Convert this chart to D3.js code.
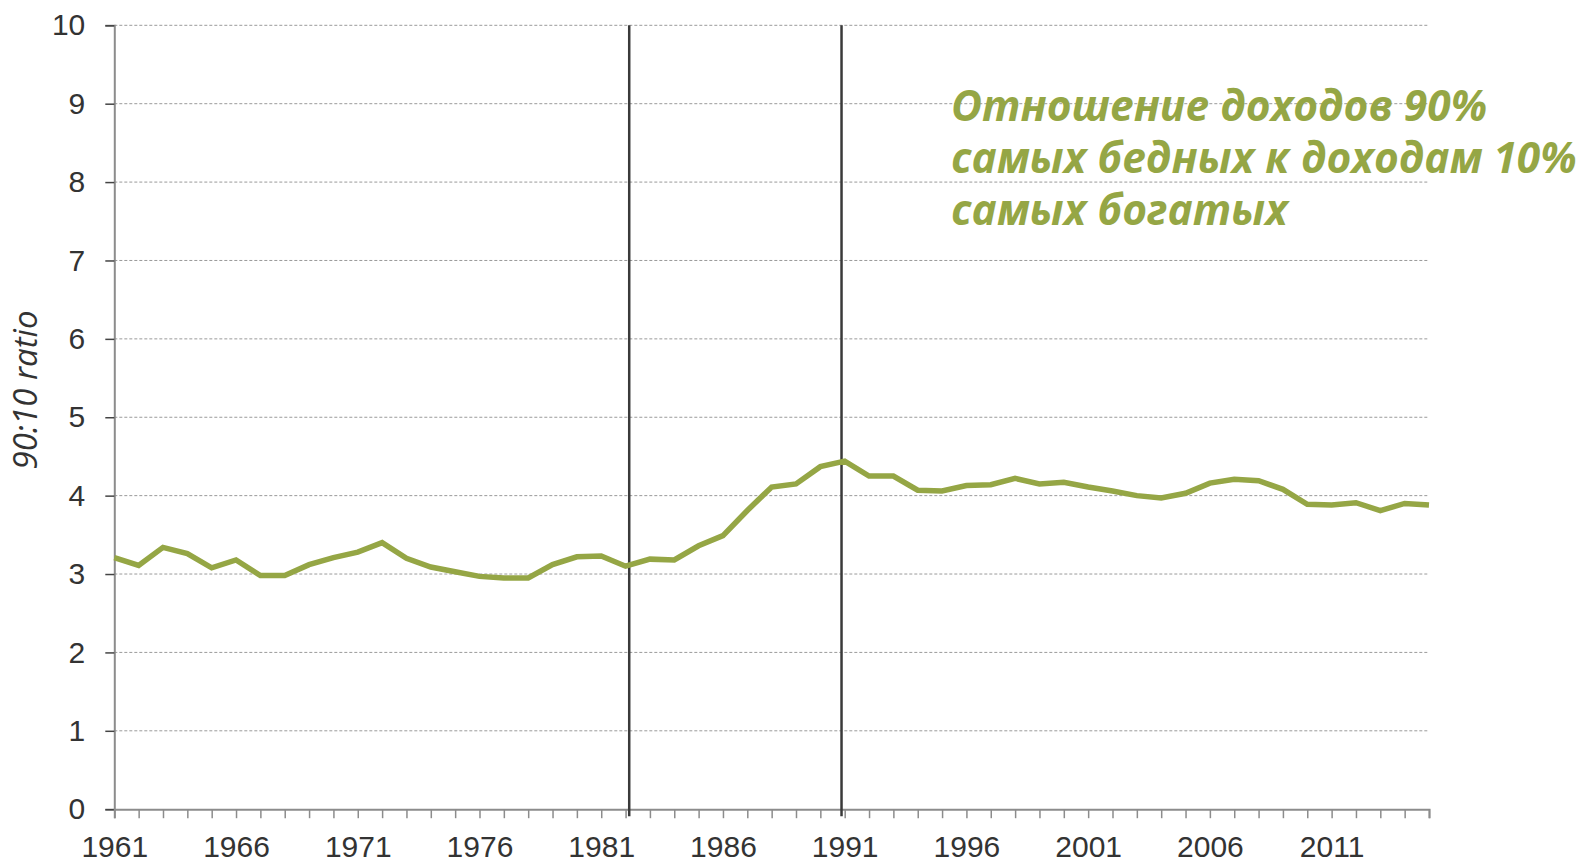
<!DOCTYPE html>
<html>
<head>
<meta charset="utf-8">
<script src="https://cdn.jsdelivr.net/npm/d3@7"></script>
<style>
  body { margin: 0; background: #fff; }
  svg { display: block; }
</style>
</head>
<body>
<svg id="chart" width="1586" height="862"></svg>
<script>
// years on the x axis
var years = d3.range(1961, 2016);
// 90:10 ratio, one value per year 1961..2015
var ratio = [3.21, 3.11, 3.34, 3.26, 3.08, 3.18, 2.98, 2.98, 3.12, 3.21,
             3.28, 3.40, 3.20, 3.09, 3.03, 2.97, 2.95, 2.95, 3.12, 3.22,
             3.23, 3.10, 3.19, 3.18, 3.36, 3.49, 3.81, 4.11, 4.15, 4.37,
             4.44, 4.25, 4.25, 4.07, 4.06, 4.13, 4.14, 4.22, 4.15, 4.17,
             4.11, 4.06, 4.00, 3.97, 4.03, 4.16, 4.21, 4.19, 4.08, 3.89,
             3.88, 3.91, 3.81, 3.90, 3.88];
var yTicks = [0, 1, 2, 3, 4, 5, 6, 7, 8, 9, 10];
var labelYears = [1961, 1966, 1971, 1976, 1981, 1986, 1991, 1996, 2001, 2006, 2011];
// the two vertical marker lines
var markerYears = [1982.15, 1990.87];
var noteLines = ["Отношение доходов 90%", "самых бедных к доходам 10%", "самых богатых"];
var axisTitle = "90:10 ratio";

var green = "#95a645";
var svg = d3.select("#chart");

var x = d3.scaleLinear().domain([1961, 2015]).range([114.3, 1429]);
var y = d3.scaleLinear().domain([0, 10]).range([809.2, 25.3]);

// grid
svg.append("g")
  .selectAll("line")
  .data(yTicks.filter(function(d) { return d > 0; }))
  .enter()
  .append("line")
  .attr("x1", x(1961))
  .attr("x2", x(2015))
  .attr("y1", function(d) { return y(d); })
  .attr("y2", function(d) { return y(d); })
  .attr("stroke", "#9a9a9a")
  .attr("stroke-width", 1)
  .attr("stroke-dasharray", "3,2");

// y axis
var yAxis = svg.append("g")
  .attr("transform", "translate(" + x(1961) + ",0)")
  .call(d3.axisLeft(y).tickValues(yTicks).tickSize(9).tickPadding(20).tickFormat(d3.format("d")));
yAxis.select(".domain").attr("stroke", "#8c8c8c").attr("stroke-width", 2);
yAxis.selectAll(".tick line").attr("stroke", "#444").attr("stroke-width", 1.5);
yAxis.selectAll("text")
  .attr("font-family", "'Liberation Sans', Arial, sans-serif")
  .attr("font-size", 30)
  .attr("fill", "#333");

// x axis
var xAxis = svg.append("g")
  .attr("transform", "translate(0," + y(0) + ")")
  .call(d3.axisBottom(x).tickValues(years).tickSize(9).tickPadding(18)
    .tickFormat(function(d) { return labelYears.indexOf(d) >= 0 ? d : ""; }));
xAxis.select(".domain").attr("stroke", "#8c8c8c").attr("stroke-width", 2);
xAxis.selectAll(".tick line").attr("stroke", "#8c8c8c").attr("stroke-width", 1.5);
xAxis.selectAll("text")
  .attr("font-family", "'Liberation Sans', Arial, sans-serif")
  .attr("font-size", 30)
  .attr("fill", "#333");

// marker lines
svg.append("g")
  .selectAll("line")
  .data(markerYears)
  .enter()
  .append("line")
  .attr("x1", function(d) { return x(d); })
  .attr("x2", function(d) { return x(d); })
  .attr("y1", y(10))
  .attr("y2", y(0) + 7)
  .attr("stroke", "#3a3a3a")
  .attr("stroke-width", 2.5);

// the series
var line = d3.line()
  .x(function(d, i) { return x(years[i]); })
  .y(function(d) { return y(d); });

svg.append("path")
  .datum(ratio)
  .attr("d", line)
  .attr("fill", "none")
  .attr("stroke", green)
  .attr("stroke-width", 5.5)
  .attr("stroke-linejoin", "miter");

// y title
svg.append("text")
  .attr("transform", "translate(37,390) rotate(-90)")
  .attr("text-anchor", "middle")
  .attr("font-family", "'Open Sans', sans-serif")
  .attr("font-style", "italic")
  .attr("font-size", 33)
  .attr("fill", "#333")
  .text(axisTitle);

// note
svg.append("g")
  .selectAll("text")
  .data(noteLines)
  .enter()
  .append("text")
  .attr("x", 951)
  .attr("y", function(d, i) { return 121 + i * 52; })
  .attr("font-family", "'Open Sans', sans-serif")
  .attr("font-style", "italic")
  .attr("font-weight", "bold")
  .attr("font-size", 42.5)
  .attr("fill", green)
  .text(function(d) { return d; });
</script>
</body>
</html>
